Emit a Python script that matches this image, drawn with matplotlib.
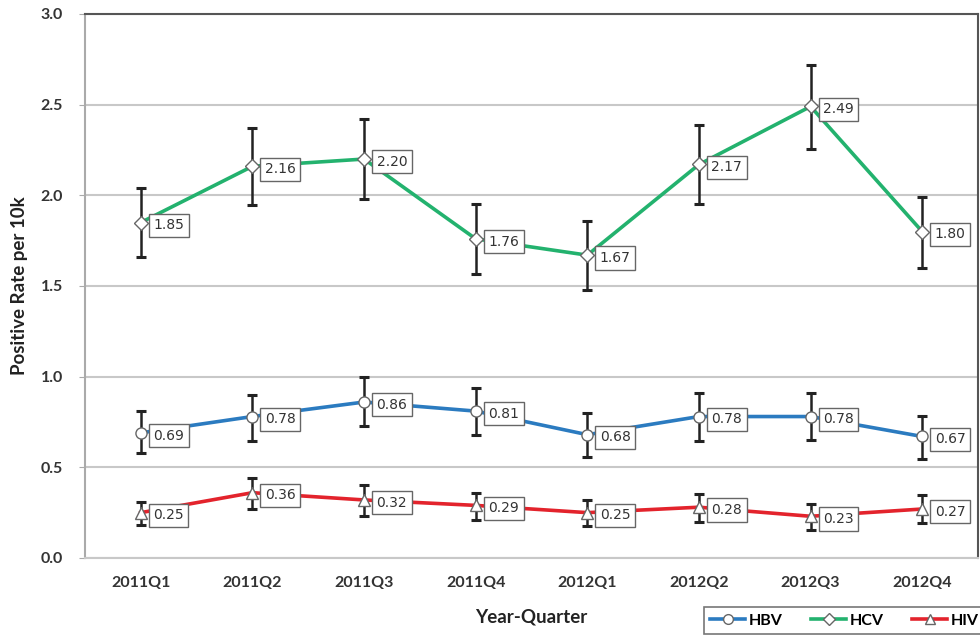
import matplotlib
matplotlib.use("Agg")
import matplotlib.pyplot as plt
from matplotlib.lines import Line2D

plt.rcParams['font.family'] = ['Lato', 'DejaVu Sans']

quarters = ["2011Q1", "2011Q2", "2011Q3", "2011Q4", "2012Q1", "2012Q2", "2012Q3", "2012Q4"]

hbv = [0.69, 0.78, 0.86, 0.81, 0.68, 0.78, 0.78, 0.67]
hbv_low = [0.58, 0.645, 0.73, 0.68, 0.555, 0.645, 0.65, 0.545]
hbv_high = [0.81, 0.90, 1.00, 0.94, 0.80, 0.91, 0.91, 0.785]

hcv = [1.85, 2.16, 2.20, 1.76, 1.67, 2.17, 2.49, 1.80]
hcv_low = [1.66, 1.945, 1.98, 1.565, 1.48, 1.95, 2.255, 1.60]
hcv_high = [2.04, 2.37, 2.42, 1.95, 1.86, 2.39, 2.72, 1.99]

hiv = [0.25, 0.36, 0.32, 0.29, 0.25, 0.28, 0.23, 0.27]
hiv_low = [0.18, 0.27, 0.23, 0.21, 0.175, 0.20, 0.155, 0.195]
hiv_high = [0.31, 0.44, 0.40, 0.36, 0.32, 0.355, 0.30, 0.35]

series = [
    ("HBV", hbv, hbv_low, hbv_high, "#2b7bc0", "o"),
    ("HCV", hcv, hcv_low, hcv_high, "#23b26e", "D"),
    ("HIV", hiv, hiv_low, hiv_high, "#e3232c", "^"),
]

fig = plt.figure(figsize=(9.8, 6.39), dpi=100)
ax = fig.add_axes([0.0867, 0.1268, 0.9113, 0.8513])

x = list(range(len(quarters)))
handles = []
for name, vals, lo, hi, color, mk in series:
    yerr = [[v - l for v, l in zip(vals, lo)], [h - v for v, h in zip(vals, hi)]]
    ax.errorbar(x, vals, yerr=yerr, fmt="none", ecolor="#222222",
                elinewidth=1.8, capsize=3.5, capthick=2.2, zorder=3)
    ax.plot(x, vals, color=color, lw=2.6, zorder=4)
    ms = 8 if mk != "D" else 7
    ax.plot(x, vals, linestyle="none", marker=mk, markersize=ms,
            markerfacecolor="white", markeredgecolor="#666666",
            markeredgewidth=1.0, zorder=5)
    for xi, v in zip(x, vals):
        ax.annotate(f"{v:.2f}", (xi, v), xytext=(9, -2), textcoords="offset points",
                    ha="left", va="center", fontsize=10, color="#333333",
                    family=["DejaVu Sans"],
                    bbox=dict(boxstyle="square,pad=0.33", fc="white",
                              ec="#666666", lw=1.0), zorder=6)
    handles.append(Line2D([0], [0], color=color, lw=2.6, marker=mk,
                          markersize=ms - 1, markerfacecolor="white",
                          markeredgecolor="#666666", label=name))

ax.set_xlim(-0.5, 7.5)
ax.set_ylim(0, 3.0)
ax.set_yticks([0, 0.5, 1.0, 1.5, 2.0, 2.5, 3.0])
ax.set_yticklabels([f"{t:.1f}" for t in ax.get_yticks()])
ax.set_xticks(x)
ax.set_xticklabels(quarters)
ax.grid(axis="y", color="#c8c8c8", lw=1.5, zorder=0)
ax.set_axisbelow(True)

for lab in ax.get_xticklabels() + ax.get_yticklabels():
    lab.set_fontweight("bold")
    lab.set_fontsize(11.5)
    lab.set_color("#333333")
ax.tick_params(axis="x", length=0, pad=13)
ax.tick_params(axis="y", length=4, color="#aaaaaa", pad=12)

ax.spines["left"].set_color("#aaaaaa")
ax.spines["left"].set_linewidth(1.5)
ax.spines["bottom"].set_color("#c8c8c8")
ax.spines["bottom"].set_linewidth(1.5)
ax.spines["top"].set_color("#555555")
ax.spines["top"].set_linewidth(1.5)
ax.spines["right"].set_color("#555555")
ax.spines["right"].set_linewidth(1.5)

ax.set_ylabel("Positive Rate per 10k", fontsize=13.5, fontweight="bold",
              color="#222222", labelpad=9)
ax.set_xlabel("Year-Quarter", fontsize=13.5, fontweight="bold",
              color="#222222", labelpad=13)

leg = fig.legend(handles=handles, loc="upper right", bbox_to_anchor=(1.005, 0.05),
                 ncol=3, frameon=True, fancybox=False,
                 handlelength=2.2, handletextpad=0.2, columnspacing=1.8,
                 borderpad=0.4, borderaxespad=0.0,
                 prop={"weight": "bold", "size": 11.5})
leg.get_frame().set_edgecolor("#555555")
leg.get_frame().set_linewidth(1.2)

fig.savefig("out.png", dpi=100, facecolor="white")
